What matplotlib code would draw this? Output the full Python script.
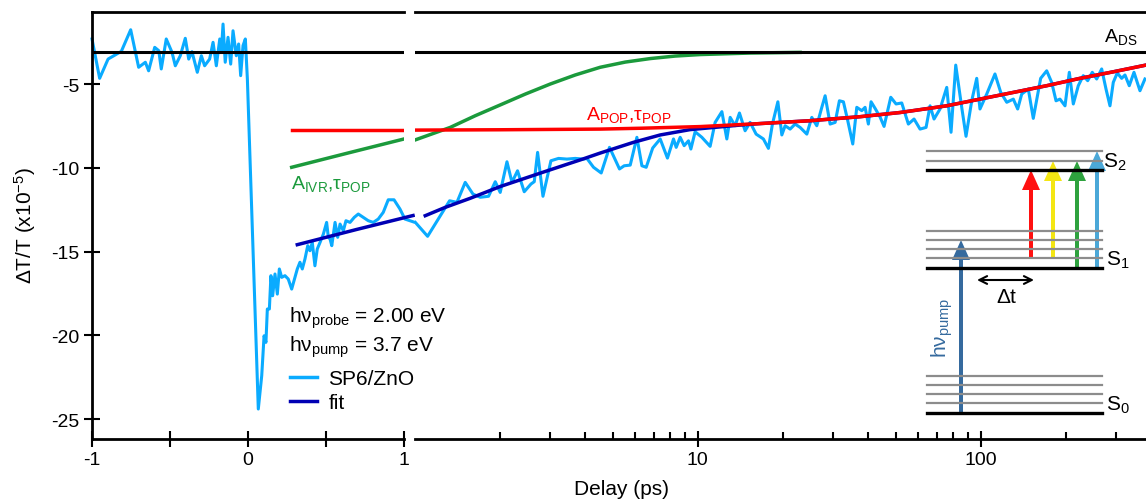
import matplotlib
matplotlib.use('Agg')
import matplotlib.pyplot as plt
from matplotlib.lines import Line2D
from matplotlib.ticker import NullFormatter

'''Transient transmission of SP6/ZnO, split delay axis (linear / log) with a level scheme.'''

plt.rcParams['font.family'] = ['Liberation Sans', 'DejaVu Sans']
plt.rcParams['mathtext.fontset'] = 'custom'
plt.rcParams['mathtext.rm'] = 'Liberation Sans'
plt.rcParams['mathtext.it'] = 'Liberation Sans:italic'
plt.rcParams['mathtext.bf'] = 'Liberation Sans:bold'
plt.rcParams['axes.unicode_minus'] = False


# ------------ data (delay in ps, dT/T in 1e-5) ---------------

# linear part, -1 .. 1 ps
delay_lin = [-1.0, -0.951, -0.897, -0.812, -0.752, -0.701, -0.658, -0.637, -0.598, -0.572,
             -0.556, -0.524, -0.487, -0.466, -0.434, -0.402, -0.380, -0.359, -0.325, -0.299,
             -0.278, -0.246, -0.224, -0.203, -0.181, -0.171, -0.160, -0.146, -0.128, -0.111,
             -0.096, -0.075, -0.060, -0.047, -0.032, -0.017, -0.004,
             0.066, 0.088, 0.103, 0.115, 0.124, 0.137, 0.147, 0.158, 0.173, 0.188,
             0.201, 0.216, 0.237, 0.258, 0.280, 0.301, 0.316, 0.333, 0.348, 0.365,
             0.383, 0.397, 0.412, 0.429, 0.444, 0.462, 0.483, 0.504, 0.515, 0.526,
             0.537, 0.558, 0.575, 0.590, 0.611, 0.628, 0.654, 0.681, 0.707, 0.739,
             0.771, 0.803, 0.835, 0.867, 0.899, 0.936, 0.974, 1.006, 1.07]
dtt_lin = [-2.31, -4.66, -3.51, -3.05, -1.76, -4.00, -3.70, -4.21, -2.81, -3.01,
           -4.10, -2.31, -3.11, -3.91, -3.31, -2.27, -3.51, -3.07, -4.30, -3.31,
           -3.91, -3.51, -2.51, -3.91, -2.31, -3.11, -1.42, -3.70, -2.21, -3.81,
           -1.82, -3.31, -2.61, -4.50, -2.71, -2.31, -4.70,
           -24.40, -22.41, -20.03, -20.42, -18.43, -18.43, -16.44, -17.64, -16.34, -17.54,
           -16.04, -16.54, -16.44, -16.64, -17.24, -16.54, -16.04, -15.64, -16.04, -15.45,
           -14.65, -14.95, -14.45, -15.85, -14.85, -14.45, -13.96, -13.26, -14.15, -14.25,
           -14.65, -13.26, -14.15, -13.36, -13.76, -13.16, -13.26, -12.96, -12.76, -12.96,
           -13.16, -13.26, -13.06, -12.66, -11.91, -11.91, -12.46, -13.06, -13.26]

# log part, 1 .. ~380 ps
delay_log = [1.003, 1.108, 1.229, 1.325, 1.407, 1.505, 1.603, 1.701, 1.820, 1.922,
             2.001, 2.114, 2.202, 2.304, 2.433, 2.570, 2.640, 2.713, 2.834, 3.024,
             3.217, 3.444, 3.685, 3.943, 4.053, 4.277, 4.553, 4.871, 5.284, 5.490,
             5.766, 6.088, 6.341, 6.567, 6.924, 7.360, 7.807, 8.201, 8.383, 8.660,
             8.946, 9.265, 9.447, 9.78, 10.33, 11.05, 11.51, 12.16, 12.66, 13.01,
             13.54, 14.03, 14.69, 15.30, 16.07, 17.05, 17.76, 18.35, 19.18, 19.81,
             20.35, 21.19, 22.07, 22.99, 24.28, 25.28, 26.33, 27.43, 28.18, 29.35,
             30.57, 31.65, 32.70, 33.78, 35.29, 36.46, 37.97, 39.01, 40.07, 40.96,
             42.31, 44.07, 45.53, 48.08, 50.20, 52.58, 55.49, 58.12, 61.03, 64.09,
             66.21, 68.39, 71.80, 75.84, 78.54, 81.60, 85.67, 88.73, 92.94, 96.8,
             99.4, 105.0, 112.3, 117.7, 123.6, 130.4, 135.1, 139.6, 147.3, 153.4,
             159.8, 162.9, 171.1, 178.2, 184.6, 190.6, 198.6, 205.7, 212.5, 221.3,
             230.4, 238.9, 248.0, 257.0, 267.7, 277.3, 286.4, 294.2, 303.9, 315.0,
             323.6, 335.1, 348.2, 365.6, 380.7]
dtt_log = [-13.26, -14.09, -12.86, -11.97, -12.06, -10.87, -11.57, -11.76, -11.70, -10.83,
           -11.47, -9.64, -10.87, -10.18, -11.43, -10.97, -10.83, -9.08, -11.70, -9.58,
           -9.44, -9.48, -9.44, -9.48, -9.44, -9.97, -10.31, -8.78, -10.07, -9.88,
           -9.84, -8.18, -9.88, -9.97, -8.82, -8.28, -9.42, -8.28, -8.78, -8.18,
           -8.68, -8.39, -8.88, -7.85, -8.18, -8.72, -7.29, -6.65, -8.28, -6.99,
           -7.49, -6.73, -7.79, -7.29, -7.99, -8.28, -8.84, -7.39, -6.06, -8.04,
           -7.49, -7.69, -7.39, -7.59, -7.99, -6.99, -7.49, -6.39, -5.70, -7.39,
           -7.29, -6.00, -6.06, -7.09, -8.58, -6.39, -6.59, -6.39, -7.39, -6.06,
           -6.45, -6.97, -7.53, -5.79, -6.19, -6.13, -7.39, -7.09, -7.69, -7.59,
           -6.30, -7.09, -6.49, -5.20, -7.88, -3.87, -6.39, -8.12, -6.00, -4.66,
           -6.49, -5.60, -4.40, -5.50, -6.09, -5.90, -6.49, -5.60, -5.30, -7.05,
           -5.40, -4.66, -4.21, -4.90, -6.00, -5.90, -6.30, -4.30, -6.19, -5.10,
           -4.50, -4.80, -4.30, -4.70, -4.10, -5.30, -6.30, -4.90, -4.34, -4.66,
           -4.46, -5.10, -4.30, -5.40, -4.70]

# fit and its components
fit_delay_lin = [0.316, 0.697, 1.058]
fit_lin = [-14.59, -13.68, -12.85]
pop_delay_lin = [0.28, 1.0]
pop_lin = [-7.75, -7.75]
ivr_delay_lin = [0.28, 0.64, 1.0]
ivr_lin = [-9.97, -9.12, -8.28]

fit_delay_log = [1.087, 1.28, 1.568, 2.0, 2.886, 3.838, 4.516, 5.922, 7.36, 9.393,
                 14.11, 16.6, 24.93, 37.46, 51.87, 75.84, 99.4, 130.4, 171.1, 224.4,
                 294.2, 383.7]
fit_log = [-12.86, -12.36, -11.82, -11.12, -10.22, -9.53, -9.12, -8.48, -8.04, -7.72,
           -7.45, -7.36, -7.19, -6.95, -6.70, -6.30, -5.90, -5.50, -5.10, -4.66,
           -4.27, -3.87]
pop_delay_log = [1.0, 2.0, 4.516, 6.253, 10.19, 16.6, 24.93, 37.46, 51.87, 75.84,
                 99.4, 130.4, 171.1, 224.4, 294.2, 383.7]
pop_log = [-7.75, -7.73, -7.69, -7.64, -7.54, -7.36, -7.19, -6.95, -6.70, -6.30,
           -5.90, -5.50, -5.10, -4.66, -4.27, -3.87]
ivr_delay_log = [1.0, 1.332, 1.634, 2.0, 2.454, 3.007, 3.685, 4.516, 5.536, 6.785,
                 8.314, 10.19, 15.30, 22.99]
ivr_log = [-8.34, -7.59, -6.89, -6.25, -5.60, -5.00, -4.46, -4.00, -3.69, -3.48,
           -3.33, -3.24, -3.15, -3.11]

a_ds = -3.09


# ------------ style ---------------

c_data = '#0aabff'
c_fit = '#0000b4'
c_pop = '#ff0000'
c_ivr = '#1b9a3c'
c_pump = '#356a9e'
c_gray = '#8c8c8c'
FS_TICK = 14
FS_TEXT = 15

W, H = 1146, 502
fig = plt.figure(figsize=(W / 100, H / 100), dpi=100)


def fbox(x0, y0, x1, y1):
    # pixel box (top-left origin) -> figure fraction
    return [x0 / W, 1 - y1 / H, (x1 - x0) / W, (y1 - y0) / H]


ax1 = fig.add_axes(fbox(92, 13, 404, 440))
ax2 = fig.add_axes(fbox(415, 13, 1146, 440))

for ax in (ax1, ax2):
    ax.set_ylim(-26.19, -0.70)
    for s in ax.spines.values():
        s.set_linewidth(2)
    ax.spines['right'].set_visible(False)
    ax.axhline(a_ds, color='black', lw=2.2, zorder=5)

ax2.spines['left'].set_visible(False)

# left: linear
ax1.set_xlim(-1, 1)
ax1.plot(delay_lin, dtt_lin, color=c_data, lw=2.2, zorder=2, clip_on=False)
ax1.plot(fit_delay_lin, fit_lin, color=c_fit, lw=2.5, zorder=3, clip_on=False)
ax1.plot(ivr_delay_lin, ivr_lin, color=c_ivr, lw=2.5, zorder=4)
ax1.plot(pop_delay_lin, pop_lin, color=c_pop, lw=2.5, zorder=4)
ax1.set_xticks([-1, -0.5, 0, 0.5, 1], ['-1', '', '0', '', '1'])
ax1.set_yticks([-5, -10, -15, -20, -25], ['-5', '-10', '-15', '-20', '-25'])
ax1.tick_params(which='major', direction='inout', length=11.5, width=1.5,
                labelsize=FS_TICK, pad=3)

# right: log
ax2.set_xscale('log')
ax2.set_xlim(1.0, 384)
ax2.plot(delay_log, dtt_log, color=c_data, lw=2.2, zorder=2)
ax2.plot(fit_delay_log, fit_log, color=c_fit, lw=2.5, zorder=3)
ax2.plot(ivr_delay_log, ivr_log, color=c_ivr, lw=2.5, zorder=4)
ax2.plot(pop_delay_log, pop_log, color=c_pop, lw=2.5, zorder=4)
ax2.set_xticks([10, 100], ['10', '100'])
ax2.set_xticks([2, 3, 4, 5, 6, 7, 8, 9, 20, 30, 40, 50, 60, 70, 80, 90, 200, 300], minor=True)
ax2.xaxis.set_minor_formatter(NullFormatter())
ax2.tick_params(axis='x', which='major', direction='inout', length=11.5, width=1.5,
                labelsize=FS_TICK, pad=3)
ax2.tick_params(axis='x', which='minor', direction='in', length=5, width=1.5)
ax2.tick_params(axis='y', left=False, labelleft=False)


# ------------ overlay in pixel coords: labels + level scheme ---------------

ov = fig.add_axes([0, 0, 1, 1], zorder=10)
ov.set_xlim(0, W)
ov.set_ylim(H, 0)
ov.axis('off')

ov.text(622, 490, 'Delay (ps)', ha='center', va='center', fontsize=FS_TEXT)
ov.text(25, 226, r'ΔT/T (x10$^{-5}$)', rotation=90, ha='center', va='center', fontsize=FS_TEXT)

ov.text(1104, 37, r'A$_{\mathrm{DS}}$', ha='left', va='center', fontsize=FS_TICK)
ov.text(586, 115, r'A$_{\mathrm{POP}}$,τ$_{\mathrm{POP}}$', ha='left', va='center',
        fontsize=FS_TICK, color=c_pop)
ov.text(291, 184, r'A$_{\mathrm{IVR}}$,τ$_{\mathrm{POP}}$', ha='left', va='center',
        fontsize=FS_TICK, color=c_ivr)

ov.text(289, 318, r'hν$_{\mathrm{probe}}$ = 2.00 eV', ha='left', va='center', fontsize=FS_TEXT)
ov.text(289, 347, r'hν$_{\mathrm{pump}}$ = 3.7 eV', ha='left', va='center', fontsize=FS_TEXT)

fig.legend(handles=[Line2D([], [], color=c_data, lw=2.5), Line2D([], [], color=c_fit, lw=2.5)],
           labels=['SP6/ZnO', 'fit'], loc='upper left', bbox_to_anchor=(290 / W, 1 - 370 / H),
           frameon=False, fontsize=FS_TEXT, handlelength=1.3, handletextpad=0.55,
           labelspacing=0.25, borderpad=0, borderaxespad=0)

# level scheme
lvl_x0, lvl_x1 = 927, 1102
levels_gray = [152, 162, 232, 241, 250, 259, 377, 386, 395, 404]
levels_black = [171, 269, 414]
for y in levels_gray:
    ov.plot([lvl_x0, lvl_x1], [y, y], color=c_gray, lw=1.6)
for y in levels_black:
    ov.plot([lvl_x0, lvl_x1], [y, y], color='black', lw=2.4)

# (x, y_start, y_tip, colour)
arrows = [(961, 414, 241, c_pump),
          (1031, 259, 171, '#ff1010'),
          (1053, 259, 162, '#f4e613'),
          (1077, 269, 162, '#2ea23e'),
          (1097, 269, 152, '#4ba8d8')]
for x, y0, y1, col in arrows:
    ov.arrow(x, y0, 0, y1 - y0, width=4, head_width=18, head_length=20,
             length_includes_head=True, fc=col, ec='none')

ov.annotate('', xy=(977, 281), xytext=(1034, 281),
            arrowprops=dict(arrowstyle='<->', lw=1.5, color='black',
                            shrinkA=0, shrinkB=0, mutation_scale=14))
ov.text(1006, 298, 'Δt', ha='center', va='center', fontsize=FS_TEXT)
ov.text(942, 328, r'hν$_{\mathrm{pump}}$', rotation=90, ha='center', va='center',
        fontsize=FS_TEXT, color=c_pump)

ov.text(1103, 162, r'S$_2$', ha='left', va='center', fontsize=FS_TEXT)
ov.text(1106, 260, r'S$_1$', ha='left', va='center', fontsize=FS_TEXT)
ov.text(1106, 405, r'S$_0$', ha='left', va='center', fontsize=FS_TEXT)

fig.savefig('out.png', dpi=100)
